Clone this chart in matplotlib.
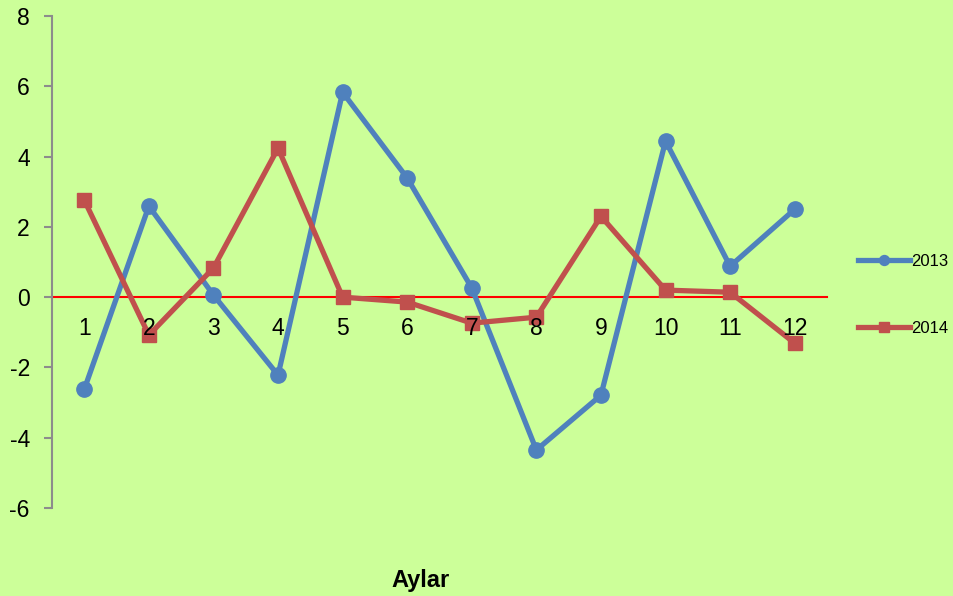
import matplotlib
matplotlib.use("Agg")
import matplotlib.pyplot as plt

plt.rcParams['font.family'] = ['Liberation Sans', 'DejaVu Sans']
plt.rcParams['axes.unicode_minus'] = False

# -----------------------------
# Data
# -----------------------------
months = list(range(1, 13))
v2013 = [-2.62, 2.59, 0.06, -2.22, 5.83, 3.39, 0.26, -4.35, -2.79, 4.44, 0.88, 2.50]
v2014 = [2.76, -1.08, 0.83, 4.24, 0.00, -0.14, -0.74, -0.57, 2.30, 0.20, 0.14, -1.31]

BG = "#CCFF99"
BLUE = "#4F81BD"
RED = "#C0504D"

# -----------------------------
# Figure layout
# -----------------------------
fig = plt.figure(figsize=(9.54, 5.96), dpi=100, facecolor=BG)
W, H = 954, 596
ax = fig.add_axes([52 / W, 1 - 508 / H, (827 - 52) / W, (508 - 16) / H])
ax.set_facecolor(BG)

ax.plot(months, v2013, color=BLUE, linewidth=3.8, marker="o", markersize=11,
        label="2013")
ax.plot(months, v2014, color=RED, linewidth=3.8, marker="s", markersize=10,
        label="2014")

ax.set_xlim(0.5, 12.5)
ax.set_ylim(-6, 8)
ax.set_yticks([-6, -4, -2, 0, 2, 4, 6, 8])
ax.set_xticks(months)
ax.set_axisbelow(False)  # tick labels drawn over the lines

# spines
for s in ("top", "right"):
    ax.spines[s].set_visible(False)
ax.spines["left"].set_color("#8C8C8C")
ax.spines["left"].set_linewidth(1.5)
ax.spines["bottom"].set_position(("data", 0))
ax.spines["bottom"].set_color("#FF0000")
ax.spines["bottom"].set_linewidth(1.5)
ax.spines["bottom"].set_zorder(1)

ax.tick_params(axis="y", direction="out", length=6, width=1.5, color="#8C8C8C",
               labelsize=16.5, pad=10)
ax.tick_params(axis="x", length=0, labelsize=16.5, pad=14)

fig.text(421 / W, 1 - 580 / H, "Aylar", ha="center", va="center",
         fontsize=17, fontweight="bold")

leg = fig.legend(loc="center left", bbox_to_anchor=(858 / W, 1 - 295 / H),
                 frameon=False, fontsize=12, handlelength=3.1, borderpad=0,
                 borderaxespad=0, handletextpad=0.1, labelspacing=3.1,
                 markerscale=0.65)

fig.savefig("out.png", dpi=100, facecolor=BG)
